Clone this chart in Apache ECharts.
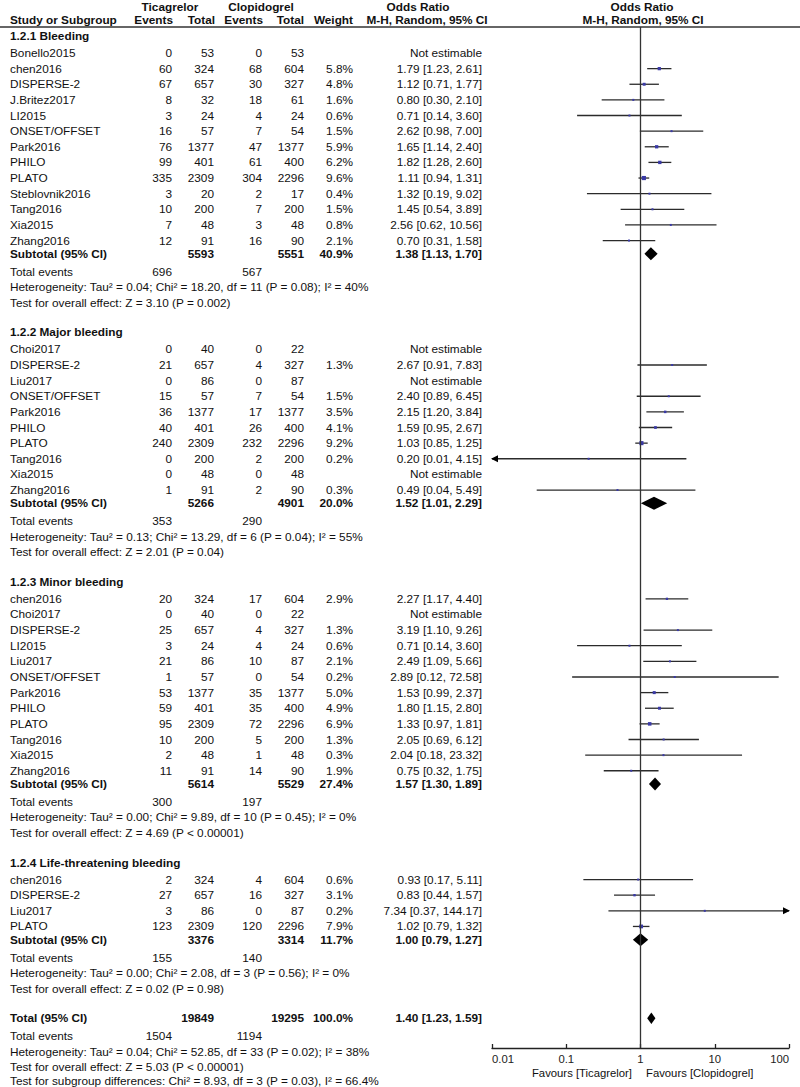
<!DOCTYPE html>
<html><head><meta charset="utf-8">
<script src="https://cdn.jsdelivr.net/npm/echarts@6/dist/echarts.min.js"></script>
<style>html,body{margin:0;padding:0;background:#fff}#c{width:800px;height:1087px}</style>
</head><body><div id="c"></div><script>
// ---------------- DATA ----------------
const headerTop = ["Ticagrelor", "Clopidogrel", "Odds Ratio", "Odds Ratio"];
const headerSub = ["Study or Subgroup", "Events", "Total", "Events", "Total", "Weight", "M-H, Random, 95% CI", "M-H, Random, 95% CI"];
const xTickLabels = ["0.01", "0.1", "1", "10", "100"];
const favourLabels = ["Favours [Ticagrelor]", "Favours [Clopidogrel]"];
const sectionTitles = ["1.2.1 Bleeding", "1.2.2 Major bleeding", "1.2.3 Minor bleeding", "1.2.4 Life-threatening bleeding"];

// [study, ticagrelor events, ticagrelor total, clopidogrel events, clopidogrel total, weight %, OR, lower, upper]
const bleeding = [
  ["Bonello2015", 0, 53, 0, 53, null, null, null, null],
  ["chen2016", 60, 324, 68, 604, 5.8, 1.79, 1.23, 2.61],
  ["DISPERSE-2", 67, 657, 30, 327, 4.8, 1.12, 0.71, 1.77],
  ["J.Britez2017", 8, 32, 18, 61, 1.6, 0.80, 0.30, 2.10],
  ["LI2015", 3, 24, 4, 24, 0.6, 0.71, 0.14, 3.60],
  ["ONSET/OFFSET", 16, 57, 7, 54, 1.5, 2.62, 0.98, 7.00],
  ["Park2016", 76, 1377, 47, 1377, 5.9, 1.65, 1.14, 2.40],
  ["PHILO", 99, 401, 61, 400, 6.2, 1.82, 1.28, 2.60],
  ["PLATO", 335, 2309, 304, 2296, 9.6, 1.11, 0.94, 1.31],
  ["Steblovnik2016", 3, 20, 2, 17, 0.4, 1.32, 0.19, 9.02],
  ["Tang2016", 10, 200, 7, 200, 1.5, 1.45, 0.54, 3.89],
  ["Xia2015", 7, 48, 3, 48, 0.8, 2.56, 0.62, 10.56],
  ["Zhang2016", 12, 91, 16, 90, 2.1, 0.70, 0.31, 1.58]
];
const majorBleeding = [
  ["Choi2017", 0, 40, 0, 22, null, null, null, null],
  ["DISPERSE-2", 21, 657, 4, 327, 1.3, 2.67, 0.91, 7.83],
  ["Liu2017", 0, 86, 0, 87, null, null, null, null],
  ["ONSET/OFFSET", 15, 57, 7, 54, 1.5, 2.40, 0.89, 6.45],
  ["Park2016", 36, 1377, 17, 1377, 3.5, 2.15, 1.20, 3.84],
  ["PHILO", 40, 401, 26, 400, 4.1, 1.59, 0.95, 2.67],
  ["PLATO", 240, 2309, 232, 2296, 9.2, 1.03, 0.85, 1.25],
  ["Tang2016", 0, 200, 2, 200, 0.2, 0.20, 0.01, 4.15],
  ["Xia2015", 0, 48, 0, 48, null, null, null, null],
  ["Zhang2016", 1, 91, 2, 90, 0.3, 0.49, 0.04, 5.49]
];
const minorBleeding = [
  ["chen2016", 20, 324, 17, 604, 2.9, 2.27, 1.17, 4.40],
  ["Choi2017", 0, 40, 0, 22, null, null, null, null],
  ["DISPERSE-2", 25, 657, 4, 327, 1.3, 3.19, 1.10, 9.26],
  ["LI2015", 3, 24, 4, 24, 0.6, 0.71, 0.14, 3.60],
  ["Liu2017", 21, 86, 10, 87, 2.1, 2.49, 1.09, 5.66],
  ["ONSET/OFFSET", 1, 57, 0, 54, 0.2, 2.89, 0.12, 72.58],
  ["Park2016", 53, 1377, 35, 1377, 5.0, 1.53, 0.99, 2.37],
  ["PHILO", 59, 401, 35, 400, 4.9, 1.80, 1.15, 2.80],
  ["PLATO", 95, 2309, 72, 2296, 6.9, 1.33, 0.97, 1.81],
  ["Tang2016", 10, 200, 5, 200, 1.3, 2.05, 0.69, 6.12],
  ["Xia2015", 2, 48, 1, 48, 0.3, 2.04, 0.18, 23.32],
  ["Zhang2016", 11, 91, 14, 90, 1.9, 0.75, 0.32, 1.75]
];
const lifeThreatening = [
  ["chen2016", 2, 324, 4, 604, 0.6, 0.93, 0.17, 5.11],
  ["DISPERSE-2", 27, 657, 16, 327, 3.1, 0.83, 0.44, 1.57],
  ["Liu2017", 3, 86, 0, 87, 0.2, 7.34, 0.37, 144.17],
  ["PLATO", 123, 2309, 120, 2296, 7.9, 1.02, 0.79, 1.32]
];
// [ticagrelor total, clopidogrel total, weight %, OR, lower, upper]
const subtotals = [
  [5593, 5551, 40.9, 1.38, 1.13, 1.70],
  [5266, 4901, 20.0, 1.52, 1.01, 2.29],
  [5614, 5529, 27.4, 1.57, 1.30, 1.89],
  [3376, 3314, 11.7, 1.00, 0.79, 1.27]
];
const subtotalEvents = [[696, 567], [353, 290], [300, 197], [155, 140]];
const heterogeneity = [
  "Heterogeneity: Tau² = 0.04; Chi² = 18.20, df = 11 (P = 0.08); I² = 40%",
  "Heterogeneity: Tau² = 0.13; Chi² = 13.29, df = 6 (P = 0.04); I² = 55%",
  "Heterogeneity: Tau² = 0.00; Chi² = 9.89, df = 10 (P = 0.45); I² = 0%",
  "Heterogeneity: Tau² = 0.00; Chi² = 2.08, df = 3 (P = 0.56); I² = 0%"
];
const overallEffect = [
  "Test for overall effect: Z = 3.10 (P = 0.002)",
  "Test for overall effect: Z = 2.01 (P = 0.04)",
  "Test for overall effect: Z = 4.69 (P < 0.00001)",
  "Test for overall effect: Z = 0.02 (P = 0.98)"
];
const total = [19849, 19295, 100.0, 1.40, 1.23, 1.59];
const totalEvents = [1504, 1194];
const totalStats = [
  "Heterogeneity: Tau² = 0.04; Chi² = 52.85, df = 33 (P = 0.02); I² = 38%",
  "Test for overall effect: Z = 5.03 (P < 0.00001)",
  "Test for subgroup differences: Chi² = 8.93, df = 3 (P = 0.03), I² = 66.4%"
];
const sections = [bleeding, majorBleeding, minorBleeding, lifeThreatening];

// ---------------- LAYOUT ----------------
const W = 800, H = 1087;
const PLOT_TOP = 27, PLOT_BOTTOM = 1048, PLOT_LEFT = 492, PLOT_RIGHT = 789;
const X_MIN = 0.01, X_MAX = 100;
const COL = { name: 10, tE: 172, tN: 214, cE: 262, cN: 304, w: 353, or: 482 };
const STEP = { first: 36, headFirst: 17, study: 15.63, lastSub: 13.3, subTE: 17.8, line: 15.5, testHead: 29.7 };
const FONT = '"Liberation Sans", Arial, Helvetica, sans-serif';
const FS = 11.8;
const TXT = '#111';

const texts = [];
const ciRows = [];
const diamonds = [];
function addText(x, y, s, align, bold, size) {
  texts.push({ x, y, s: String(s), align: align || 'left', bold: !!bold, size: size || FS });
}
const fmtOR = (o, l, h) => `${o.toFixed(2)} [${l.toFixed(2)}, ${h.toFixed(2)}]`;

// headers
const HEAD1 = 6.8, HEAD2 = 20;
addText(170, HEAD1, headerTop[0], 'center', true);
addText(261, HEAD1, headerTop[1], 'center', true);
addText(418, HEAD1, headerTop[2], 'center', true);
addText(642, HEAD1, headerTop[3], 'center', true);
addText(COL.name, HEAD2, headerSub[0], 'left', true);
addText(COL.tE + 1, HEAD2, headerSub[1], 'right', true);
addText(COL.tN + 1, HEAD2, headerSub[2], 'right', true);
addText(COL.cE + 1, HEAD2, headerSub[3], 'right', true);
addText(COL.cN, HEAD2, headerSub[4], 'right', true);
addText(COL.w, HEAD2, headerSub[5], 'right', true);
addText(427, HEAD2, headerSub[6], 'center', true);
addText(643, HEAD2, headerSub[7], 'center', true);

let y = STEP.first;
sections.forEach((rows, si) => {
  addText(COL.name, y, sectionTitles[si], 'left', true);
  y += STEP.headFirst;
  rows.forEach((r, i) => {
    if (i > 0) y += STEP.study;
    addText(COL.name, y, r[0], 'left');
    addText(COL.tE, y, r[1], 'right');
    addText(COL.tN, y, r[2], 'right');
    addText(COL.cE, y, r[3], 'right');
    addText(COL.cN, y, r[4], 'right');
    if (r[5] == null) {
      addText(COL.or, y, 'Not estimable', 'right');
    } else {
      addText(COL.w, y, r[5].toFixed(1) + '%', 'right');
      addText(COL.or, y, fmtOR(r[6], r[7], r[8]), 'right');
      ciRows.push({ y, w: r[5], or: r[6], lo: r[7], hi: r[8] });
    }
  });
  y += STEP.lastSub;
  const s = subtotals[si];
  addText(COL.name, y, 'Subtotal (95% CI)', 'left', true);
  addText(COL.tN, y, s[0], 'right', true);
  addText(COL.cN, y, s[1], 'right', true);
  addText(COL.w, y, s[2].toFixed(1) + '%', 'right', true);
  addText(COL.or, y, fmtOR(s[3], s[4], s[5]), 'right', true);
  diamonds.push({ y, or: s[3], lo: s[4], hi: s[5], h: 6.5 });
  y += STEP.subTE;
  addText(COL.name, y, 'Total events', 'left');
  addText(COL.tE, y, subtotalEvents[si][0], 'right');
  addText(COL.cE, y, subtotalEvents[si][1], 'right');
  y += STEP.line;
  addText(COL.name, y, heterogeneity[si], 'left');
  y += STEP.line;
  addText(COL.name, y, overallEffect[si], 'left');
  y += STEP.testHead;
});
addText(COL.name, y, 'Total (95% CI)', 'left', true);
addText(COL.tN, y, total[0], 'right', true);
addText(COL.cN, y, total[1], 'right', true);
addText(COL.w, y, total[2].toFixed(1) + '%', 'right', true);
addText(COL.or, y, fmtOR(total[3], total[4], total[5]), 'right', true);
diamonds.push({ y, or: total[3], lo: total[4], hi: total[5], h: 5.8 });
y += STEP.subTE;
addText(COL.name, y, 'Total events', 'left');
addText(COL.tE, y, totalEvents[0], 'right');
addText(COL.cE, y, totalEvents[1], 'right');
totalStats.forEach((s, i) => { y += (i === totalStats.length - 1 ? STEP.line - 1.6 : STEP.line); addText(COL.name, y, s, 'left'); });

// favours labels
addText(632, 1073, favourLabels[0], 'right', false, 11.3);
addText(646, 1073, favourLabels[1], 'left', false, 11.3);

// ---------------- RENDERERS ----------------
function renderText(params, api) {
  const t = texts[params.dataIndex];
  const p = api.coord([t.x, t.y]);
  return {
    type: 'text', x: p[0], y: p[1],
    style: {
      text: t.s, align: t.align, verticalAlign: 'middle',
      fontSize: t.size, fontFamily: FONT, fontWeight: t.bold ? 'bold' : 'normal', fill: TXT
    }
  };
}
function renderCI(params, api) {
  const d = ciRows[params.dataIndex];
  const lo = Math.max(d.lo, X_MIN), hi = Math.min(d.hi, X_MAX);
  const p0 = api.coord([lo, d.y]), p1 = api.coord([hi, d.y]), pe = api.coord([d.or, d.y]);
  const stroke = '#2b2b2b';
  const ch = [{ type: 'line', shape: { x1: p0[0], y1: p0[1], x2: p1[0], y2: p1[1] }, style: { stroke, lineWidth: 1.3 } }];
  if (d.lo <= X_MIN) ch.push({ type: 'polygon', shape: { points: [[p0[0] - 1, p0[1]], [p0[0] + 6, p0[1] - 3.5], [p0[0] + 6, p0[1] + 3.5]] }, style: { fill: '#000' } });
  if (d.hi >= X_MAX) ch.push({ type: 'polygon', shape: { points: [[p1[0] + 1, p1[1]], [p1[0] - 6, p1[1] - 3.5], [p1[0] - 6, p1[1] + 3.5]] }, style: { fill: '#000' } });
  const s = Math.max(2, 1.35 * Math.sqrt(d.w));
  ch.push({ type: 'rect', shape: { x: pe[0] - s / 2, y: pe[1] - s / 2, width: s, height: s }, style: { fill: '#3a3aa6' } });
  return { type: 'group', children: ch };
}
function renderDiamond(params, api) {
  const d = diamonds[params.dataIndex];
  const a = api.coord([d.lo, d.y]), b = api.coord([d.or, d.y]), c = api.coord([d.hi, d.y]);
  return {
    type: 'polygon',
    shape: { points: [[a[0], a[1]], [b[0], b[1] - d.h], [c[0], c[1]], [b[0], b[1] + d.h]] },
    style: { fill: '#000' }
  };
}

// ---------------- CHART ----------------
const chart = echarts.init(document.getElementById('c'), null, { renderer: 'svg', width: W, height: H });
chart.setOption({
  animation: false,
  backgroundColor: '#fff',
  grid: [
    { left: 0, right: 0, top: 0, bottom: 0 },
    { left: PLOT_LEFT, right: W - PLOT_RIGHT, top: PLOT_TOP, bottom: H - PLOT_BOTTOM }
  ],
  xAxis: [
    { type: 'value', gridIndex: 0, min: 0, max: W, show: false },
    {
      type: 'log', gridIndex: 1, logBase: 10, min: X_MIN, max: X_MAX,
      axisLine: { show: true, lineStyle: { color: '#222', width: 1.3 } },
      axisTick: { show: true, inside: true, length: 4, lineStyle: { color: '#222', width: 1.3 } },
      axisLabel: {
        show: true, fontSize: 11.3, fontFamily: FONT, color: '#222', margin: 5,
        alignMinLabel: 'left', alignMaxLabel: 'right',
        formatter: v => xTickLabels[Math.round(Math.log10(v)) + 2] || ''
      },
      splitLine: { show: false }, minorTick: { show: false }
    }
  ],
  yAxis: [
    { type: 'value', gridIndex: 0, min: 0, max: H, inverse: true, show: false },
    { type: 'value', gridIndex: 1, min: PLOT_TOP, max: PLOT_BOTTOM, inverse: true, show: false }
  ],
  series: [
    {
      type: 'custom', name: 'table', xAxisIndex: 0, yAxisIndex: 0, silent: true, clip: false,
      data: texts.map(t => [t.x, t.y]), renderItem: renderText,
      markLine: {
        silent: true, symbol: 'none', label: { show: false },
        lineStyle: { color: '#333', width: 1.5, type: 'solid' },
        data: [{ yAxis: PLOT_TOP }]
      }
    },
    {
      type: 'custom', name: 'studies', xAxisIndex: 1, yAxisIndex: 1, silent: true, clip: false,
      data: ciRows.map(d => [d.or, d.y]), renderItem: renderCI,
      markLine: {
        silent: true, symbol: 'none', label: { show: false },
        lineStyle: { color: '#333', width: 1.3, type: 'solid' },
        data: [{ xAxis: 1 }]
      }
    },
    {
      type: 'custom', name: 'pooled', xAxisIndex: 1, yAxisIndex: 1, silent: true, clip: false,
      data: diamonds.map(d => [d.or, d.y]), renderItem: renderDiamond
    }
  ]
});
</script></body></html>
